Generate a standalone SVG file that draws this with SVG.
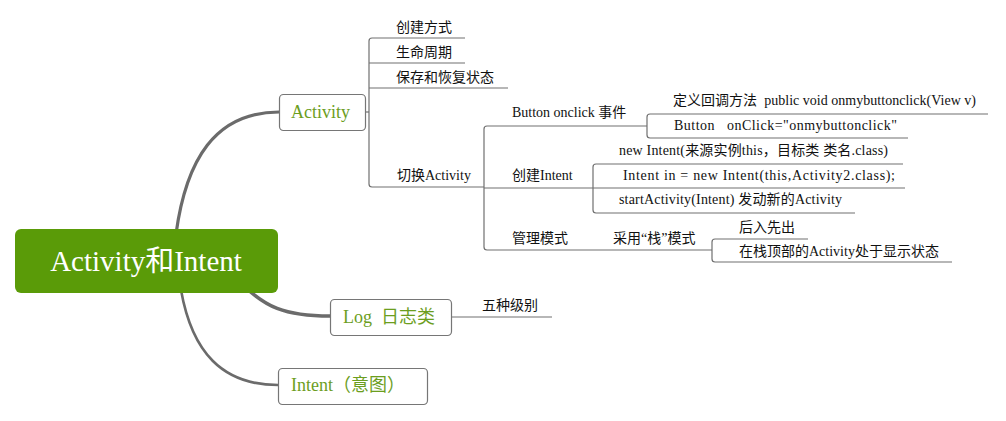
<svg xmlns="http://www.w3.org/2000/svg" width="1006" height="421" viewBox="0 0 1006 421">
<style>
.bg{fill:#ffffff}
.curve{fill:none;stroke:#6b6b6b;stroke-linecap:round}
.line{fill:none;stroke:#707070;stroke-width:1.2}
.box{fill:#ffffff;stroke:#767676;stroke-width:1.2}
.root{fill:#5a9b08}
.rt{font-family:"Liberation Serif","Noto Sans CJK SC",serif;font-size:29px;fill:#ffffff}
.nt{font-family:"Liberation Serif","Noto Sans CJK SC",serif;font-size:18px;fill:#6c9e1e}
.t{font-family:"Liberation Serif","Noto Sans CJK SC",serif;font-size:14px;fill:#111111}
</style>
<rect class="bg" x="0" y="0" width="1006" height="421"/>
<g id="connectors">
<path class="curve" stroke-width="3.2" d="M176,234 C186,160 215,112 279,112"/>
<path class="curve" stroke-width="3.6" d="M246,288 C265,305 282,316 330,316"/>
<path class="curve" stroke-width="2.6" d="M181,290 C192,352 222,385 278,385"/>
<path class="line" d="M365,112 H369"/>
<path class="line" d="M465,38 H372 Q369,38 369,41 V184 Q369,187 372,187 H484"/>
<path class="line" d="M369,63 H465"/>
<path class="line" d="M369,88 H508"/>
<path class="line" d="M647,126 H487 Q484,126 484,129 V247 Q484,250 487,250 H712"/>
<path class="line" d="M484,188 H905"/>
<path class="line" d="M988,114 H650 Q647,114 647,117 V135 Q647,138 650,138 H908"/>
<path class="line" d="M903,164 H596 Q593,164 593,167 V210 Q593,213 596,213 H855"/>
<path class="line" d="M808,239 H715 Q712,239 712,242 V259 Q712,262 715,262 H952"/>
<path class="line" d="M451,317 H552"/>
</g>
<g id="node-root">
<rect class="root" x="15" y="229" width="263" height="64" rx="6"/>
<text class="rt" x="146" y="271" text-anchor="middle">Activity和Intent</text>
</g>
<g id="node-activity">
<rect class="box" x="279.5" y="94.5" width="86" height="36" rx="4"/>
<text class="nt" x="291" y="118">Activity</text>
</g>
<g id="node-log">
<rect class="box" x="330.5" y="299.5" width="121" height="36" rx="4"/>
<text class="nt" x="343" y="323" xml:space="preserve">Log  日志类</text>
</g>
<g id="node-intent">
<rect class="box" x="278.5" y="368.5" width="149" height="36" rx="4"/>
<text class="nt" x="291" y="391">Intent（意图）</text>
</g>
<g id="node-create">
<text class="t" x="396" y="32">创建方式</text>
</g>
<g id="node-lifecycle">
<text class="t" x="396" y="57">生命周期</text>
</g>
<g id="node-save">
<text class="t" x="396" y="82">保存和恢复状态</text>
</g>
<g id="node-switch">
<text class="t" x="397" y="180">切换Activity</text>
</g>
<g id="node-button">
<text class="t" x="512" y="117">Button onclick 事件</text>
</g>
<g id="node-callback">
<text class="t" x="673" y="105" xml:space="preserve" textLength="303" lengthAdjust="spacing">定义回调方法  public void onmybuttonclick(View v)</text>
</g>
<g id="node-onclick">
<text class="t" x="674" y="130" xml:space="preserve" textLength="223" lengthAdjust="spacing">Button   onClick="onmybuttonclick"</text>
</g>
<g id="node-createintent">
<text class="t" x="512" y="180">创建Intent</text>
</g>
<g id="node-newintent">
<text class="t" x="619" y="155" textLength="269" lengthAdjust="spacing">new Intent(来源实例this，目标类 类名.class)</text>
</g>
<g id="node-intentin">
<text class="t" x="623" y="180" textLength="272" lengthAdjust="spacing">Intent in = new Intent(this,Activity2.class);</text>
</g>
<g id="node-start">
<text class="t" x="619" y="204" textLength="223" lengthAdjust="spacing">startActivity(Intent) 发动新的Activity</text>
</g>
<g id="node-manage">
<text class="t" x="512" y="243">管理模式</text>
</g>
<g id="node-stack">
<text class="t" x="613" y="243">采用“栈”模式</text>
</g>
<g id="node-lifo">
<text class="t" x="739" y="232">后入先出</text>
</g>
<g id="node-top">
<text class="t" x="739" y="256">在栈顶部的Activity处于显示状态</text>
</g>
<g id="node-levels">
<text class="t" x="482" y="310">五种级别</text>
</g>
</svg>
